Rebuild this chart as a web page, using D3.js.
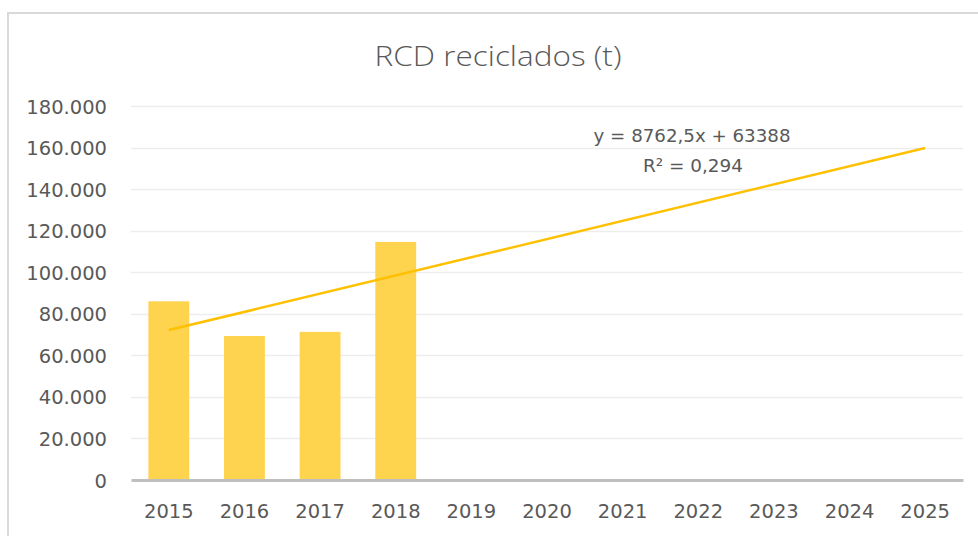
<!DOCTYPE html>
<html>
<head>
<meta charset="utf-8">
<script src="https://cdn.jsdelivr.net/npm/d3@7"></script>
<style>
  html, body { margin: 0; padding: 0; background: #fff; }
  svg { display: block; }
  text { fill: #595959; }
</style>
</head>
<body>
<svg></svg>
<script>
const years = ["2015", "2016", "2017", "2018", "2019", "2020", "2021", "2022", "2023", "2024", "2025"];
const barYears = ["2015", "2016", "2017", "2018"];
const barValues = [86000, 69300, 71300, 114575];
const yTicks = [0, 20000, 40000, 60000, 80000, 100000, 120000, 140000, 160000, 180000];
const trendSlope = 8762.5;
const trendIntercept = 63388;
const equationText = "y = 8762,5x + 63388";
const r2Text = "R² = 0,294";
const title = "RCD reciclados (t)";

const width = 978;
const height = 536;
const svg = d3.select("svg").attr("width", width).attr("height", height);

const margin = { left: 131, right: 15, top: 106, bottom: 56 };

// borde del gráfico
svg.append("rect")
  .attr("x", 8)
  .attr("y", 13)
  .attr("width", width)
  .attr("height", height)
  .attr("fill", "none")
  .attr("stroke", "#d9d9d9")
  .attr("stroke-width", 2);

const xScale = d3.scaleBand()
  .domain(years)
  .range([margin.left, width - margin.right])
  .paddingInner(0.46)
  .paddingOuter(0.23);

const yScale = d3.scaleLinear()
  .domain([0, 180000])
  .range([height - margin.bottom, margin.top]);

const locale = d3.formatLocale({ decimal: ",", thousands: ".", grouping: [3], currency: ["", ""] });
const fmt = locale.format(",");

// líneas de cuadrícula
svg.append("g")
  .selectAll("line")
  .data(yTicks.slice(1))
  .join("line")
  .attr("x1", margin.left)
  .attr("x2", width - margin.right)
  .attr("y1", (d) => Math.round(yScale(d)) + 0.5)
  .attr("y2", (d) => Math.round(yScale(d)) + 0.5)
  .attr("stroke", "#ededed")
  .attr("stroke-width", 1.5);

// eje y
const yAxis = d3.axisLeft(yScale).tickValues(yTicks).tickFormat(fmt).tickSize(0).tickPadding(24);
const yAxisG = svg.append("g").attr("transform", `translate(${margin.left}, 0)`).call(yAxis);
yAxisG.select(".domain").remove();
yAxisG.selectAll("text")
  .attr("font-family", "DejaVu Sans")
  .attr("font-size", 19.5)
  .attr("fill", "#595959")
  .attr("dy", "0.36em");

// barras
svg.append("g")
  .selectAll("rect")
  .data(barValues)
  .join("rect")
  .attr("x", (d, i) => xScale(barYears[i]))
  .attr("y", (d) => yScale(d))
  .attr("width", xScale.bandwidth())
  .attr("height", (d) => yScale(0) - yScale(d))
  .attr("fill", "#fed34d");

// eje x
const xAxis = d3.axisBottom(xScale).tickSize(0).tickPadding(24);
const xAxisG = svg.append("g").attr("transform", `translate(0, ${yScale(0)})`).call(xAxis);
xAxisG.select(".domain")
  .attr("stroke", "#bfbfbf")
  .attr("stroke-width", 3);
xAxisG.selectAll("text")
  .attr("font-family", "DejaVu Sans")
  .attr("font-size", 19.5)
  .attr("fill", "#595959");

// línea de tendencia
const trend = years.map((y, i) => ({ year: y, value: trendSlope * (i + 1) + trendIntercept }));
const line = d3.line()
  .x((d) => xScale(d.year) + xScale.bandwidth() / 2)
  .y((d) => yScale(d.value));
svg.append("path")
  .attr("d", line([trend[0], trend[trend.length - 1]]))
  .attr("fill", "none")
  .attr("stroke", "#ffc000")
  .attr("stroke-width", 2.5);

// ecuación
svg.append("text")
  .attr("x", 692)
  .attr("y", 142)
  .attr("text-anchor", "middle")
  .attr("font-family", "DejaVu Sans")
  .attr("font-size", 18)
  .attr("textLength", 197)
  .attr("lengthAdjust", "spacingAndGlyphs")
  .text(equationText);
svg.append("text")
  .attr("x", 693)
  .attr("y", 172)
  .attr("text-anchor", "middle")
  .attr("font-family", "DejaVu Sans")
  .attr("font-size", 18)
  .attr("textLength", 100)
  .attr("lengthAdjust", "spacingAndGlyphs")
  .text(r2Text);

// título
svg.append("text")
  .attr("x", 498)
  .attr("y", 66)
  .attr("text-anchor", "middle")
  .attr("font-family", "Open Sans")
  .attr("font-weight", 300)
  .attr("font-size", 27)
  .attr("textLength", 247)
  .attr("lengthAdjust", "spacingAndGlyphs")
  .text(title);
</script>
</body>
</html>
